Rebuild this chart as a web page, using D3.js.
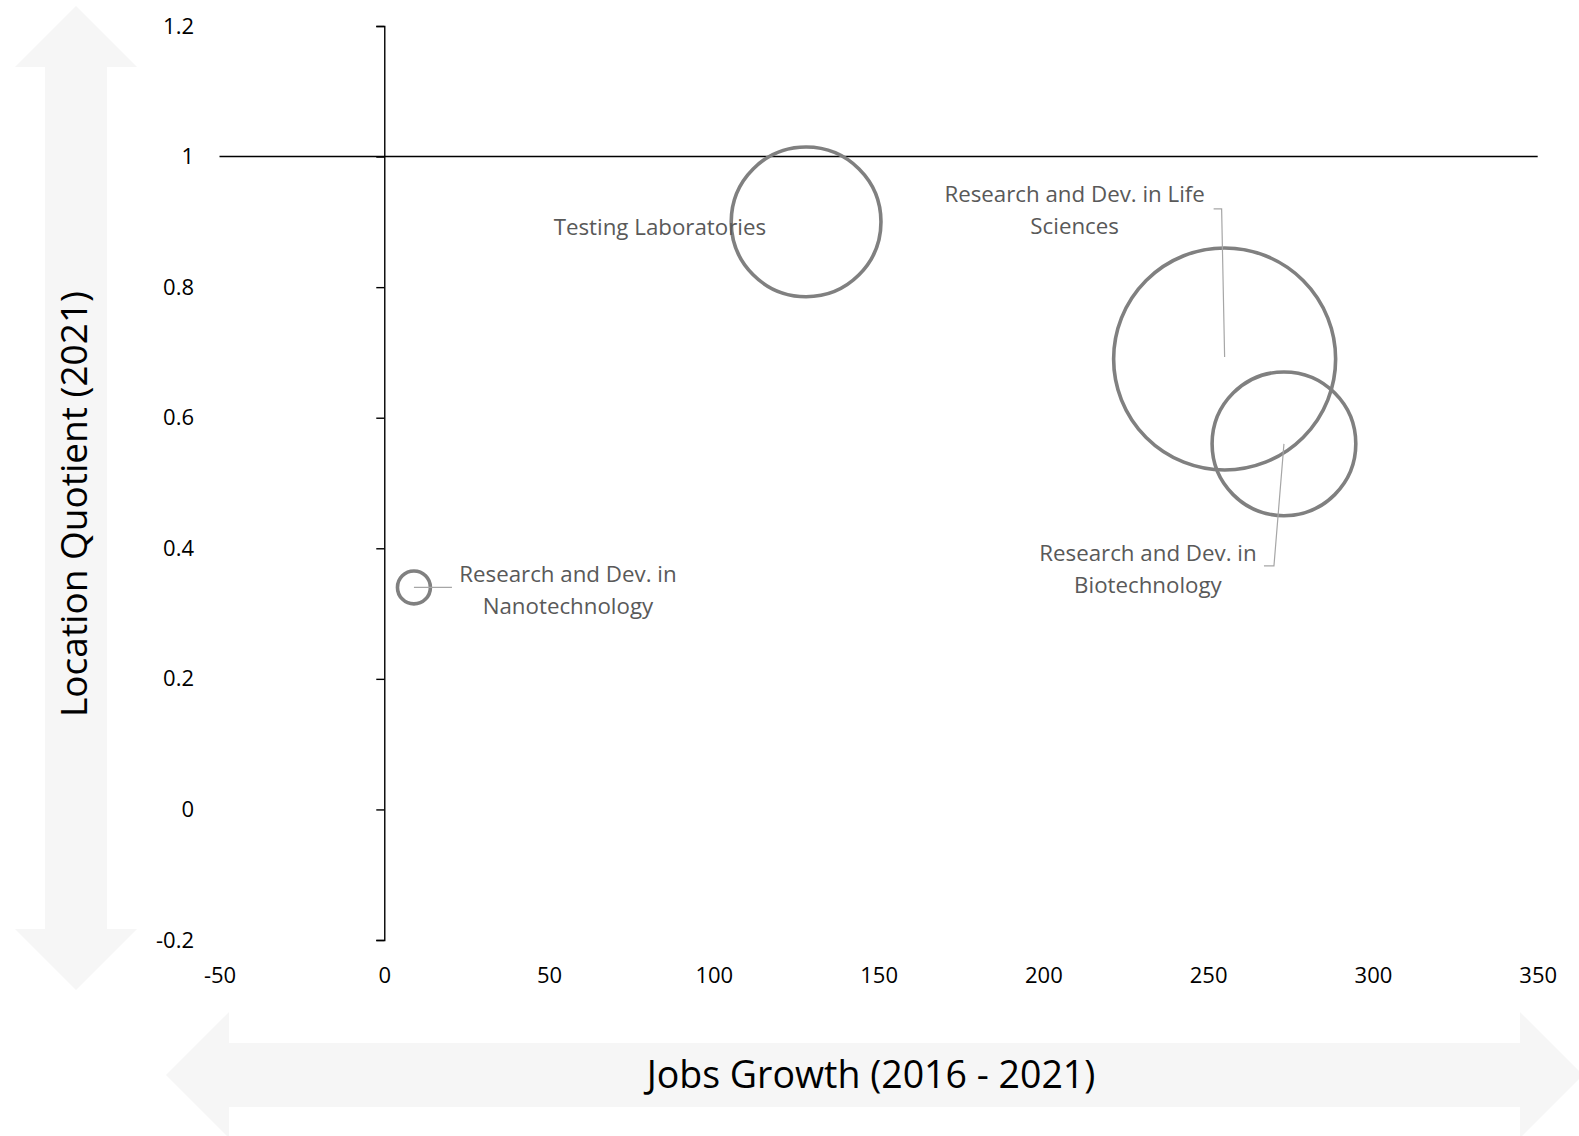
<!DOCTYPE html>
<html>
<head>
<meta charset="utf-8">
<script src="https://cdn.jsdelivr.net/npm/d3@7"></script>
<style>
  html, body { margin: 0; padding: 0; background: #fff; }
  svg { display: block; font-family: "Open Sans", "Noto Sans", sans-serif; }
</style>
</head>
<body>
<svg id="chart" width="1579" height="1136"></svg>
<script>
// ---- data ----
const industries = ["Testing Laboratories", "Research and Dev. in Life Sciences", "Research and Dev. in Biotechnology", "Research and Dev. in Nanotechnology"];
const jobsGrowth = [128, 255, 273, 9];
const locationQuotient = [0.90, 0.69, 0.56, 0.34];
const bubbleSize = [455, 1000, 419, 22];
const labelLines = [["Testing Laboratories"], ["Research and Dev. in Life", "Sciences"], ["Research and Dev. in", "Biotechnology"], ["Research and Dev. in", "Nanotechnology"]];
const xTicks = [-50, 0, 50, 100, 150, 200, 250, 300, 350];
const yTicks = [-0.2, 0, 0.2, 0.4, 0.6, 0.8, 1, 1.2];
const xTitle = "Jobs Growth (2016 - 2021)";
const yTitle = "Location Quotient (2021)";

// ---- layout (label placement relative to bubble centre, px) ----
const labelLayout = [
  { dx: -40, dy: 5, anchor: "end", leader: null },
  { dx: -150, dy: -165, anchor: "middle", leader: [[-11, -150], [-3, -150], [0, -2]] },
  { dx: -136, dy: 109, anchor: "middle", leader: [[-20, 122], [-10, 122], [0, 0]] },
  { dx: 154, dy: -13, anchor: "middle", leader: [[0, 0], [38, 0]] }
];

const svg = d3.select("#chart");
const x = d3.scaleLinear().domain([-50, 350]).range([219.5, 1537.7]);
const y = d3.scaleLinear().domain([-0.2, 1.2]).range([940, 26]);
const r = d3.scaleSqrt().domain([0, 1000]).range([0, 111]);
const fmt = d => String(Math.round(d * 10) / 10);
const arrowFill = "#f6f6f6";

// ---- background arrows ----
const cxV = 76;
svg.append("path")
  .attr("d", d3.line()([[cxV, 6], [cxV + 61, 67], [cxV + 31, 67], [cxV + 31, 929], [cxV + 61, 929], [cxV, 990],
    [cxV - 61, 929], [cxV - 31, 929], [cxV - 31, 67], [cxV - 61, 67]]) + "Z")
  .attr("fill", arrowFill);
const cyH = 1075;
svg.append("path")
  .attr("d", d3.line()([[166, cyH], [229, cyH - 63], [229, cyH - 32], [1520, cyH - 32], [1520, cyH - 63], [1583, cyH],
    [1520, cyH + 63], [1520, cyH + 32], [229, cyH + 32], [229, cyH + 63]]) + "Z")
  .attr("fill", arrowFill);

// ---- horizontal line at LQ = 1 ----
svg.append("line")
  .attr("x1", x(-50)).attr("x2", x(350))
  .attr("y1", y(1)).attr("y2", y(1))
  .attr("stroke", "#000").attr("stroke-width", 1.4);

// ---- y axis line and ticks ----
const yAxisG = svg.append("g")
  .attr("transform", `translate(${x(0)},0)`)
  .call(d3.axisLeft(y).tickValues(yTicks).tickSize(8).tickSizeOuter(8).tickFormat(() => ""));
yAxisG.selectAll("path, line").attr("stroke", "#000").attr("stroke-width", 1.4);

// ---- y tick labels (low position) ----
const yLab = svg.append("g")
  .attr("transform", "translate(194,0)")
  .call(d3.axisLeft(y).tickValues(yTicks).tickSize(0).tickPadding(0).tickFormat(fmt));
yLab.select(".domain").remove();
yLab.selectAll("text").attr("font-size", 22).attr("fill", "#000")
  .attr("font-family", "'Open Sans', sans-serif");

// ---- x tick labels (low position) ----
const xLab = svg.append("g")
  .attr("transform", "translate(0,975)")
  .call(d3.axisBottom(x).tickValues(xTicks).tickSize(0).tickPadding(0).tickFormat(fmt));
xLab.select(".domain").remove();
xLab.selectAll("text").attr("y", 0).attr("dy", "0.35em").attr("font-size", 22).attr("fill", "#000")
  .attr("font-family", "'Open Sans', sans-serif");

// ---- bubbles ----
const data = industries.map((name, i) => ({ name, gx: jobsGrowth[i], lq: locationQuotient[i], size: bubbleSize[i], lines: labelLines[i], lay: labelLayout[i] }));

svg.append("g").selectAll("circle").data(data).join("circle")
  .attr("cx", d => x(d.gx)).attr("cy", d => y(d.lq)).attr("r", d => r(d.size))
  .attr("fill", "none").attr("stroke", "#808080").attr("stroke-width", 3.6);

// ---- leader lines ----
svg.append("g").selectAll("path").data(data.filter(d => d.lay.leader)).join("path")
  .attr("d", d => d3.line()(d.lay.leader.map(p => [x(d.gx) + p[0], y(d.lq) + p[1]])))
  .attr("fill", "none").attr("stroke", "#a6a6a6").attr("stroke-width", 1.2);

// ---- data labels ----
const lbl = svg.append("g").selectAll("text").data(data).join("text")
  .attr("x", d => x(d.gx) + d.lay.dx)
  .attr("y", d => y(d.lq) + d.lay.dy)
  .attr("text-anchor", d => d.lay.anchor)
  .attr("font-size", 22.3).attr("fill", "#595959");
lbl.selectAll("tspan").data(d => d.lines.map(t => ({ t, x: x(d.gx) + d.lay.dx }))).join("tspan")
  .attr("x", t => t.x)
  .attr("dy", (t, i) => i === 0 ? "0.35em" : "32px")
  .text(t => t.t);

// ---- axis titles ----
svg.append("text")
  .attr("x", 871).attr("y", 1075).attr("dy", "0.35em")
  .attr("text-anchor", "middle").attr("font-size", 37.5).attr("fill", "#000")
  .text(xTitle);
svg.append("text")
  .attr("transform", "translate(74,504) rotate(-90)")
  .attr("dy", "0.35em")
  .attr("text-anchor", "middle").attr("font-size", 37).attr("fill", "#000")
  .text(yTitle);
</script>
</body>
</html>
